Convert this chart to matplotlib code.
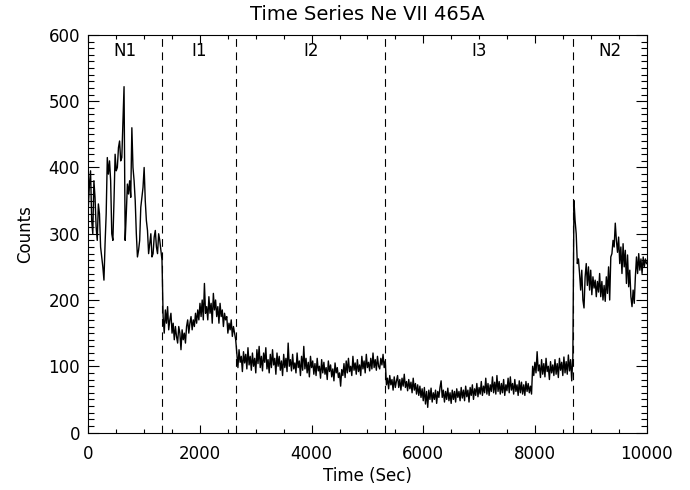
import numpy as np
import matplotlib
matplotlib.use("Agg")
import matplotlib.pyplot as plt
from matplotlib.ticker import MultipleLocator

# Ne VII 465A counts, one reading every 20 s, split by interval
n1 = [340, 375, 395, 320, 300, 380, 355, 310, 290, 345,
      330, 280, 265, 250, 230, 285, 330, 415, 390, 410,
      380, 300, 290, 350, 420, 395, 400, 430, 440, 410,
      415, 470, 522, 290, 330, 375, 360, 380, 355, 460,
      400, 380, 350, 300, 265, 275, 290, 340, 355, 370,
      400, 350, 320, 305, 270, 285, 300, 265, 270, 295,
      305, 280, 270, 300, 290, 275, 260]
i1 = [175, 150, 185, 165, 190, 155, 170, 180, 150, 165,
      140, 160, 145, 135, 160, 150, 125, 155, 140, 150,
      135, 160, 170, 150, 165, 175, 155, 170, 160, 180,
      165, 185, 170, 195, 175, 200, 170, 225, 180, 190,
      170, 205, 180, 195, 165, 210, 185, 200, 175, 190,
      165, 195, 175, 185, 160, 180, 170, 175, 150, 165,
      155, 170, 145, 160, 150, 140]
i2 = [120, 98, 125, 106, 115, 92, 122, 105, 118, 96,
      128, 102, 115, 94, 120, 100, 112, 90, 125, 104,
      130, 98, 115, 93, 120, 106, 128, 96, 110, 90,
      118, 98, 125, 102, 112, 88, 120, 100, 115, 94,
      108, 86, 118, 98, 112, 92, 135, 100, 110, 93,
      118, 96, 105, 90, 120, 98, 108, 86, 115, 94,
      130, 96, 112, 90, 106, 84, 115, 98, 108, 88,
      104, 86, 112, 93, 100, 82, 110, 90, 106, 88,
      98, 80, 108, 92, 102, 84, 96, 78, 105, 90,
      98, 83, 90, 70, 95, 86, 104, 83, 108, 90,
      112, 92, 100, 86, 115, 94, 105, 88, 110, 92,
      102, 86, 115, 96, 108, 90, 118, 98, 106, 93,
      112, 96, 120, 98, 110, 94, 115, 100, 96, 112,
      102, 118, 98, 108]
i3 = [72, 82, 66, 86, 72, 80, 64, 84, 68, 78,
      86, 68, 80, 64, 82, 70, 88, 68, 77, 63,
      80, 66, 76, 60, 82, 64, 74, 58, 72, 56,
      70, 53, 66, 48, 68, 43, 62, 38, 64, 50,
      67, 46, 60, 50, 64, 44, 62, 53, 68, 78,
      53, 64, 46, 62, 50, 67, 48, 60, 44, 64,
      50, 62, 46, 66, 53, 62, 48, 68, 52, 64,
      48, 70, 54, 64, 46, 68, 56, 72, 50, 66,
      56, 74, 54, 68, 58, 77, 56, 70, 60, 82,
      58, 74, 56, 72, 62, 84, 60, 76, 58, 86,
      62, 77, 58, 74, 60, 80, 56, 72, 63, 82,
      60, 84, 64, 74, 58, 80, 62, 72, 56, 78,
      60, 76, 58, 72, 56, 77, 62, 74, 60, 70,
      58, 100, 86, 106, 90, 122, 93, 102, 83, 110,
      88, 104, 84, 112, 92, 100, 80, 107, 90, 102,
      86, 110, 88, 104, 83, 112, 94, 106, 86, 114,
      90, 107, 88, 117, 93, 110, 78, 114]
n2 = [350, 320, 300, 255, 262, 240, 215, 245, 200, 188,
      235, 255, 222, 250, 215, 245, 208, 235, 218, 230,
      205, 228, 212, 240, 205, 228, 200, 222, 198, 235,
      210, 250, 200, 265, 270, 290, 280, 316, 290, 272,
      295, 255, 280, 240, 285, 250, 275, 225, 268, 220,
      245, 205, 190, 215, 195, 235, 265, 240, 270, 245,
      262, 240, 265, 250, 262, 255]

segments = [n1, i1, i2, i3, n2]
starts = [0, 1340, 2660, 5340, 8700]
bounds = [0, 1320, 2650, 5320, 8690, 10000]
names = ["N1", "I1", "I2", "I3", "N2"]

time = np.concatenate([t0 + 20.0 * np.arange(len(s)) for t0, s in zip(starts, segments)])
counts = np.concatenate([np.array(s, dtype=float) for s in segments])

plt.rcParams['font.family'] = 'DejaVu Sans'

fig = plt.figure(figsize=(6.9, 4.9), dpi=100)
ax = fig.add_axes([0.128, 0.1173, 0.809, 0.8113])

ax.plot(time, counts, color='black', lw=1.0)

for b in bounds[1:-1]:
    ax.axvline(b, color='black', lw=0.8, dashes=(7, 5))

for k, nm in enumerate(names):
    ax.text((bounds[k] + bounds[k + 1]) / 2, 576, nm, ha='center', va='center',
            fontsize=12)

ax.set_xlim(0, 10000)
ax.set_ylim(0, 600)
ax.xaxis.set_major_locator(MultipleLocator(2000))
ax.xaxis.set_minor_locator(MultipleLocator(500))
ax.yaxis.set_major_locator(MultipleLocator(100))
ax.yaxis.set_minor_locator(MultipleLocator(10))

ax.tick_params(which='both', direction='in', top=True, right=True,
               labelsize=12, width=0.8)
ax.tick_params(axis='x', which='major', length=5.8, pad=9)
ax.tick_params(axis='x', which='minor', length=2.9)
ax.tick_params(axis='y', which='major', length=8, pad=6)
ax.tick_params(axis='y', which='minor', length=4)
for s in ax.spines.values():
    s.set_linewidth(0.8)

ax.set_title("Time Series Ne VII 465A", fontsize=14, pad=11)
ax.set_xlabel("Time (Sec)", fontsize=12, labelpad=3)
ax.set_ylabel("Counts", fontsize=12, labelpad=10)

fig.savefig("out.png", dpi=100)
